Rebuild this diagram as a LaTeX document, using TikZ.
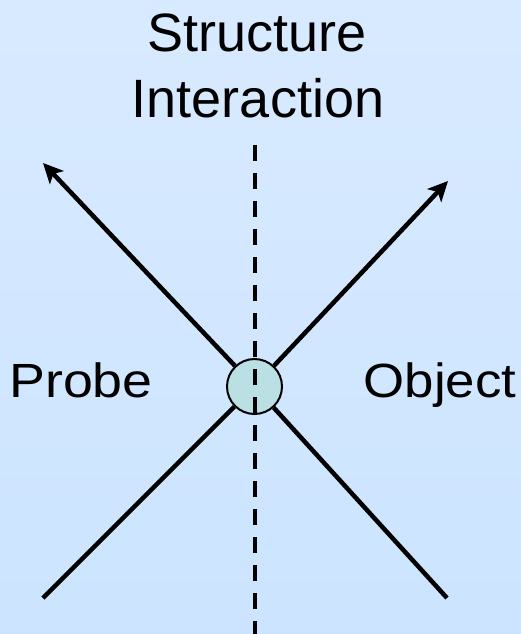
\documentclass[tikz,border=0pt]{standalone}
\usepackage{fontspec}
\setmainfont{Liberation Sans}
\usetikzlibrary{arrows.meta}
\definecolor{bgtop}{RGB}{216,234,255}
\definecolor{bgbot}{RGB}{204,228,255}
\definecolor{dotfill}{RGB}{187,224,227}
\tikzset{
  title/.style={anchor=base, inner sep=0pt, font=\fontsize{54}{64}\selectfont},
  side/.style={anchor=base, inner sep=0pt, font=\fontsize{48}{56}\selectfont},
  axis/.style={line width=4.5pt, black},
  arrowaxis/.style={axis, -{Stealth[length=20pt,width=19pt,inset=5pt]}},
  centerdash/.style={line width=4pt, dash pattern=on 16pt off 12pt},
  dot/.style={circle, draw=black, line width=2pt, fill=dotfill, minimum size=55pt, inner sep=0pt}
}
\begin{document}
\begin{tikzpicture}[x=1pt, y=-1pt]
  \shade[top color=bgtop, bottom color=bgbot] (0,0) rectangle (521,634);
  \useasboundingbox (0,0) rectangle (521,634);
  \node[title] (t1) at (257,52) {Structure};
  \node[title] (t2) at (258,117) {Interaction};
  \node[side] (probe) at (81,397) {\scalebox{1.12}[1]{Probe}};
  \node[side] (object) at (440,397) {\scalebox{1.1}[1]{Object}};
  \node[dot] (c) at (254.5,386.5) {};
  \coordinate (ul) at (43,163);
  \coordinate (ur) at (448,181);
  \coordinate (ll) at (43,598);
  \coordinate (lr) at (447,598);
  \coordinate (dtop) at (255,145);
  \coordinate (dbot) at (255,640);
  \draw[axis] (ll) -- (c);
  \draw[axis] (lr) -- (c);
  \draw[arrowaxis] (c) -- (ul);
  \draw[arrowaxis] (c) -- (ur);
  \draw[centerdash] (dtop) -- (dbot);
\end{tikzpicture}
\end{document}
